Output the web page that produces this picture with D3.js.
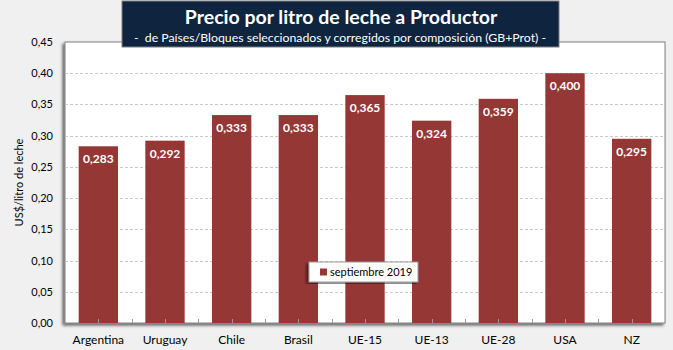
<!DOCTYPE html>
<html><head><meta charset="utf-8">
<script src="https://cdn.jsdelivr.net/npm/d3@7"></script>
<style>
html,body{margin:0;padding:0;background:#f0f0f0;}
svg{display:block;font-family:Lato,"Open Sans",sans-serif;}
</style></head>
<body><svg id="c" width="673" height="350"></svg>
<script>
const categories = ["Argentina","Uruguay","Chile","Brasil","UE-15","UE-13","UE-28","USA","NZ"];
const values = [0.283,0.292,0.333,0.333,0.365,0.324,0.359,0.400,0.295];
const yTicks = [0,0.05,0.10,0.15,0.20,0.25,0.30,0.35,0.40,0.45];
const seriesName = "septiembre 2019";
const titleText = "Precio por litro de leche a Productor";
const subtitleText = "-  de Países/Bloques seleccionados y corregidos por composición (GB+Prot) -";
const yLabel = "US$/litro de leche";

const svg = d3.select("#c");
const W = 673, H = 350;
const m = {l:65, t:42, r:665, b:323};
const barColor = "#953735";
const fmt = v => d3.format(".2f")(v).replace(".", ",");
const fmt3 = v => d3.format(".3f")(v).replace(".", ",");

svg.append("rect").attr("width",W).attr("height",H).attr("fill","#f0f0f0");

const x = d3.scaleBand().domain(categories).range([m.l,m.r]).paddingInner(0.41).paddingOuter(0.205);
const y = d3.scaleLinear().domain([0,0.45]).range([m.b,m.t]);

const defs = svg.append("defs");
const f = defs.append("filter").attr("id","sh").attr("x","-10%").attr("y","-10%").attr("width","120%").attr("height","120%");
f.append("feGaussianBlur").attr("in","SourceAlpha").attr("stdDeviation",1.5);
f.append("feOffset").attr("dx",-2).attr("dy",2).attr("result","ob");
f.append("feComponentTransfer").append("feFuncA").attr("type","linear").attr("slope",0.6);
const fm = f.append("feMerge"); fm.append("feMergeNode"); fm.append("feMergeNode").attr("in","SourceGraphic");

svg.append("rect").attr("x",m.l).attr("y",m.t).attr("width",m.r-m.l).attr("height",m.b-m.t)
  .attr("fill","#fff").attr("stroke","#808080").attr("stroke-width",1).attr("filter","url(#sh)");

svg.append("g").selectAll("line").data(yTicks.filter(d=>d>0 && d<0.45)).join("line")
  .attr("x1",m.l).attr("x2",m.r).attr("y1",d=>Math.round(y(d))+0.5).attr("y2",d=>Math.round(y(d))+0.5)
  .attr("stroke","#c8c8c8").attr("stroke-dasharray","3,2").attr("stroke-width",1);

const ya = d3.axisLeft(y).tickValues(yTicks).tickFormat(fmt).tickSize(0).tickPadding(12);
const yg = svg.append("g").attr("transform",`translate(${m.l},0)`).call(ya);
yg.select(".domain").remove();
yg.selectAll("text").attr("font-size",11).attr("fill","#000").attr("font-family","Lato,'Open Sans',sans-serif");

svg.append("g").selectAll("rect").data(values).join("rect")
  .attr("x",(d,i)=>x(categories[i])).attr("width",x.bandwidth())
  .attr("y",d=>y(d)).attr("height",d=>y(0)-y(d)).attr("fill",barColor);

svg.append("g").selectAll("text").data(values).join("text")
  .attr("x",(d,i)=>x(categories[i])+x.bandwidth()/2).attr("y",d=>y(d)+17)
  .attr("text-anchor","middle").attr("fill","#fff").attr("font-weight","bold").attr("font-size",12)
  .text(fmt3);

const xa = d3.axisBottom(x).tickSize(0).tickPadding(12);
const xg = svg.append("g").attr("transform",`translate(0,${m.b})`).call(xa);
xg.select(".domain").remove();
xg.selectAll("text").attr("font-size",12).attr("fill","#000").attr("font-family","Lato,'Open Sans',sans-serif");
const step = (m.r-m.l)/categories.length;
const tickXs = d3.range(1, categories.length*2).map(k=>m.l + k*step/2);
svg.append("g").selectAll("line").data(tickXs).join("line")
  .attr("x1",d=>Math.round(d)+0.5).attr("x2",d=>Math.round(d)+0.5).attr("y1",m.b).attr("y2",m.b-4)
  .attr("stroke","#999");

svg.append("text").attr("transform",`translate(23,${(m.t+m.b)/2}) rotate(-90)`)
  .attr("text-anchor","middle").attr("font-size",11).attr("fill","#000").text(yLabel);

const lg = svg.append("g");
lg.append("rect").attr("x",309).attr("y",262).attr("width",109).attr("height",20)
  .attr("fill","#fff").attr("stroke","#999").attr("filter","url(#sh)");
lg.append("rect").attr("x",320).attr("y",268.5).attr("width",7).attr("height",7).attr("fill",barColor);
lg.append("text").attr("x",330).attr("y",276).attr("font-size",11).attr("fill","#000").text(seriesName);

const tb = svg.append("g");
tb.append("rect").attr("x",122).attr("y",1).attr("width",437).attr("height",46).attr("fill","#0f243e")
  .attr("stroke","#7f7f7f").attr("stroke-width",1);
tb.append("text").attr("x",341).attr("y",24).attr("text-anchor","middle").attr("fill","#fff")
  .attr("font-weight","bold").attr("font-size",19.5).text(titleText);
tb.append("text").attr("x",340).attr("y",42).attr("text-anchor","middle").attr("fill","#fff")
  .attr("font-size",12.3).style("white-space","pre").text(subtitleText);
</script></body></html>
